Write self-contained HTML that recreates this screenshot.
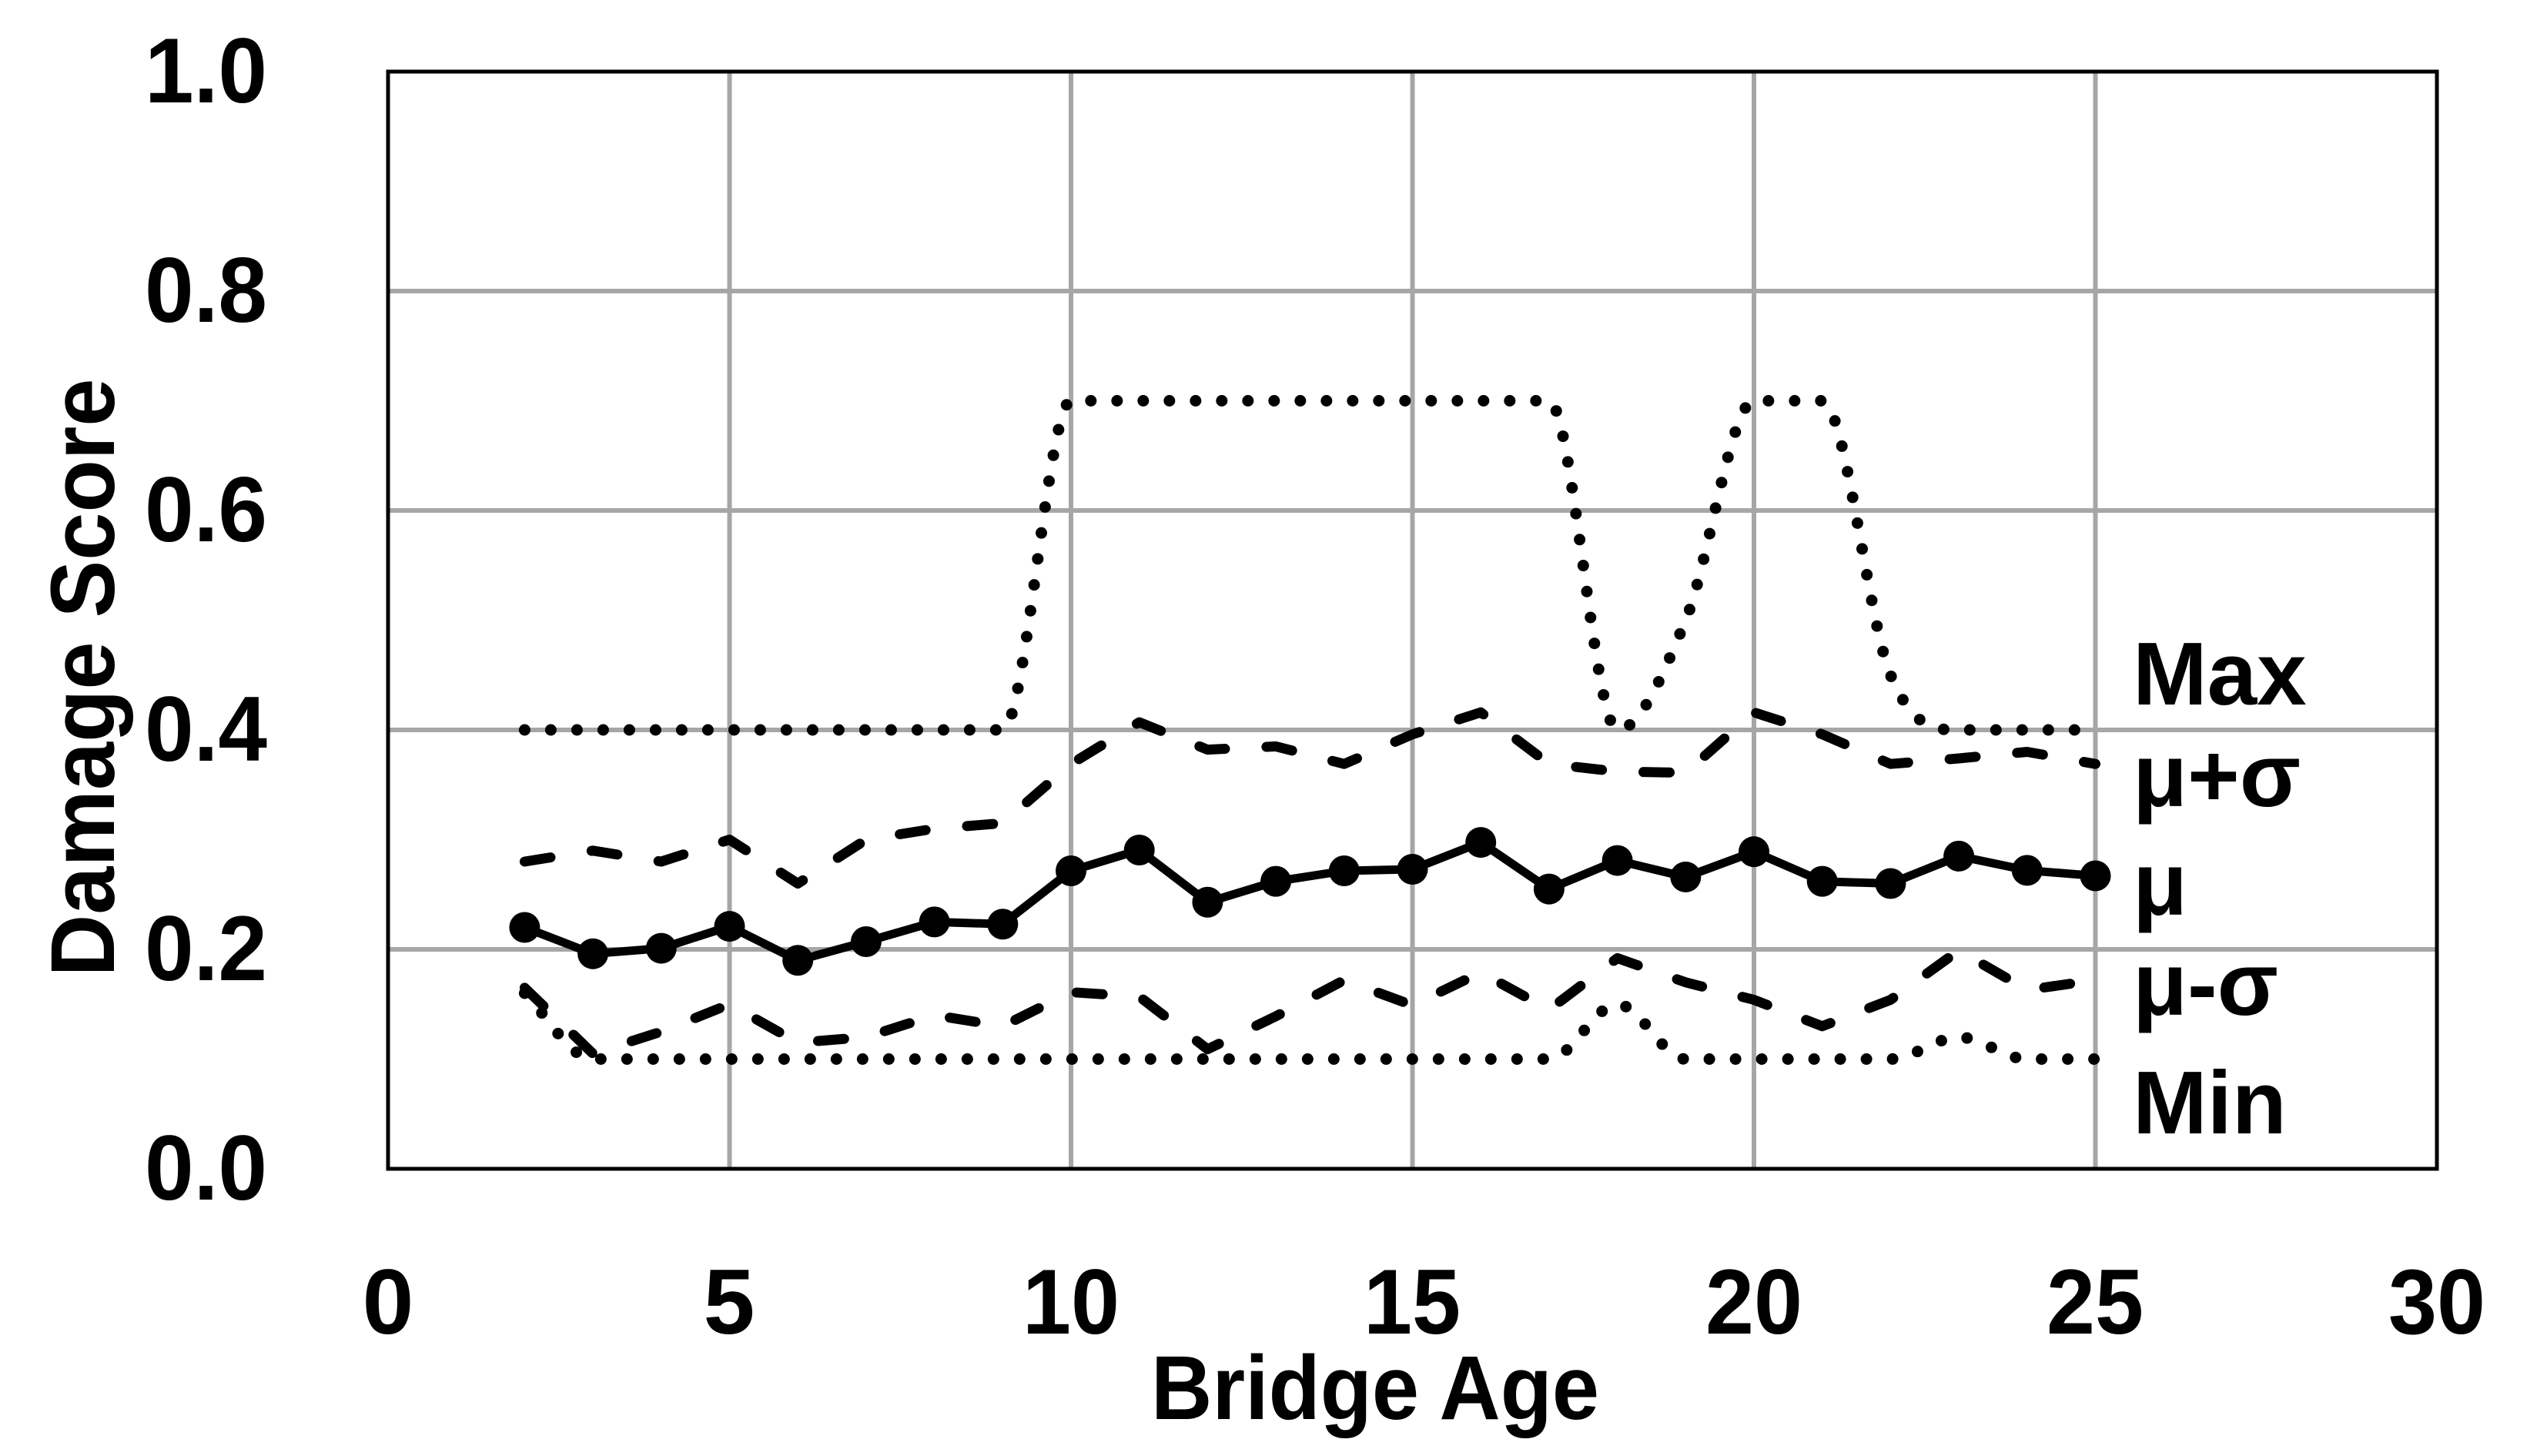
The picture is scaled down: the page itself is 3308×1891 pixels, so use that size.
<!DOCTYPE html>
<html><head><meta charset="utf-8"><style>
html,body{margin:0;padding:0;background:#fff;}
svg{display:block;}
text{font-family:"Liberation Sans",sans-serif;font-weight:bold;fill:#000;}
</style></head><body>
<svg id="s" width="3308" height="1891" viewBox="0 0 3308 1891" xmlns="http://www.w3.org/2000/svg">
<rect width="3308" height="1891" fill="#fff"/>
<g id="grid" stroke="#a6a6a6" stroke-width="6"></g>
<g id="series"></g>
<rect x="504" y="93" width="2661" height="1425" fill="none" stroke="#000" stroke-width="5"/>
<g font-size="120">
<text x="347" y="133" text-anchor="end" textLength="159" lengthAdjust="spacingAndGlyphs">1.0</text>
<text x="347" y="418" text-anchor="end" textLength="159" lengthAdjust="spacingAndGlyphs">0.8</text>
<text x="347" y="703" text-anchor="end" textLength="159" lengthAdjust="spacingAndGlyphs">0.6</text>
<text x="347" y="988" text-anchor="end" textLength="159" lengthAdjust="spacingAndGlyphs">0.4</text>
<text x="347" y="1273" text-anchor="end" textLength="159" lengthAdjust="spacingAndGlyphs">0.2</text>
<text x="347" y="1558" text-anchor="end" textLength="159" lengthAdjust="spacingAndGlyphs">0.0</text>
<text x="504" y="1732" text-anchor="middle">0</text>
<text x="947" y="1732" text-anchor="middle">5</text>
<text x="1391" y="1732" text-anchor="middle" textLength="126" lengthAdjust="spacingAndGlyphs">10</text>
<text x="1834" y="1732" text-anchor="middle" textLength="126" lengthAdjust="spacingAndGlyphs">15</text>
<text x="2278" y="1732" text-anchor="middle" textLength="126" lengthAdjust="spacingAndGlyphs">20</text>
<text x="2721" y="1732" text-anchor="middle" textLength="126" lengthAdjust="spacingAndGlyphs">25</text>
<text x="3165" y="1732" text-anchor="middle" textLength="126" lengthAdjust="spacingAndGlyphs">30</text>
<text x="1495" y="1843" font-size="118" textLength="582" lengthAdjust="spacingAndGlyphs">Bridge Age</text>
<text transform="translate(148,880) rotate(-90)" text-anchor="middle" font-size="118" textLength="777" lengthAdjust="spacingAndGlyphs">Damage Score</text>
<text x="2770" y="915" font-size="116">Max</text>
<text x="2770" y="1047" font-size="116">μ+σ</text>
<text x="2770" y="1188" font-size="116">μ</text>
<text x="2770" y="1318" font-size="116">μ-σ</text>
<text x="2770" y="1472" font-size="116">Min</text>
</g>
</svg>
<script>
(function(){
var NS="http://www.w3.org/2000/svg";
function X(v){return 504+v*88.7;}
function Y(v){return 1518-v*1425;}
var g=document.getElementById("grid");
function ln(p,x1,y1,x2,y2){var l=document.createElementNS(NS,"line");l.setAttribute("x1",x1);l.setAttribute("y1",y1);l.setAttribute("x2",x2);l.setAttribute("y2",y2);p.appendChild(l);}
for(var i=1;i<6;i++)ln(g,X(i*5),93,X(i*5),1518);
for(var j=1;j<5;j++)ln(g,504,Y(j*0.2),3165,Y(j*0.2));
var s=document.getElementById("series");
function path(d,attrs){var p=document.createElementNS(NS,"path");p.setAttribute("d",d);p.setAttribute("fill","none");p.setAttribute("stroke","#000");for(var k in attrs)p.setAttribute(k,attrs[k]);s.appendChild(p);}
function poly(pts){return pts.map(function(p,i){return (i?"L":"M")+X(p[0]).toFixed(1)+","+Y(p[1]).toFixed(1);}).join("");}
function smooth(pts){
var n=pts.length,xs=pts.map(function(p){return X(p[0]);}),ys=pts.map(function(p){return Y(p[1]);});
var d=[],m=[];for(var i=0;i<n-1;i++)d.push((ys[i+1]-ys[i])/(xs[i+1]-xs[i]));
m[0]=d[0];m[n-1]=d[n-2];
for(i=1;i<n-1;i++){if(d[i-1]*d[i]<=0)m[i]=0;else m[i]=(d[i-1]+d[i])/2;}
for(i=0;i<n-1;i++){if(d[i]==0){m[i]=0;m[i+1]=0;continue;}var a=m[i]/d[i],b=m[i+1]/d[i],h=a*a+b*b;if(h>9){var t=3/Math.sqrt(h);m[i]=t*a*d[i];m[i+1]=t*b*d[i];}}
var r="M"+xs[0]+","+ys[0];
for(i=0;i<n-1;i++){var dx=(xs[i+1]-xs[i])/3;r+="C"+(xs[i]+dx)+","+(ys[i]+m[i]*dx)+" "+(xs[i+1]-dx)+","+(ys[i+1]-m[i+1]*dx)+" "+xs[i+1]+","+ys[i+1];}
return r;}
var xs=[];for(var a=2;a<=25;a++)xs.push(a);
var mx=[.4,.4,.4,.4,.4,.4,.4,.4,.7,.7,.7,.7,.7,.7,.7,.7,.4,.5,.7,.7,.45,.4,.4,.4];
var mn=[.16,.1,.1,.1,.1,.1,.1,.1,.1,.1,.1,.1,.1,.1,.1,.1,.15,.1,.1,.1,.1,.12,.1,.1];
var pl=[.28,.29,.28,.3,.26,.3,.31,.315,.369,.407,.382,.385,.369,.396,.416,.369,.362,.361,.416,.396,.369,.374,.38,.369];
var mi=[.165,.105,.125,.15,.115,.12,.14,.13,.161,.157,.109,.139,.172,.149,.179,.145,.192,.17,.154,.13,.154,.199,.163,.172];
var mu=[.22,.196,.201,.221,.19,.207,.225,.223,.2716,.2905,.243,.262,.2716,.273,.2975,.255,.281,.266,.289,.262,.26,.285,.272,.267];
function zip(v){return xs.map(function(x,i){return [x,v[i]];});}
var dot={"stroke-width":15,"stroke-linecap":"round","stroke-dasharray":"0 34"};
path(smooth(zip(mx)),dot);
path(smooth(zip(mn)),dot);
var dash={"stroke-width":13,"stroke-linecap":"round","stroke-linejoin":"round","stroke-dasharray":"34 54"};
path(poly(zip(pl)),dash);
path(poly(zip(mi)),dash);
path(poly(zip(mu)),{"stroke-width":11,"stroke-linejoin":"round"});
zip(mu).forEach(function(p){var c=document.createElementNS(NS,"circle");c.setAttribute("cx",X(p[0]));c.setAttribute("cy",Y(p[1]));c.setAttribute("r",20);c.setAttribute("fill","#000");s.appendChild(c);});
})();
</script>
</body></html>
